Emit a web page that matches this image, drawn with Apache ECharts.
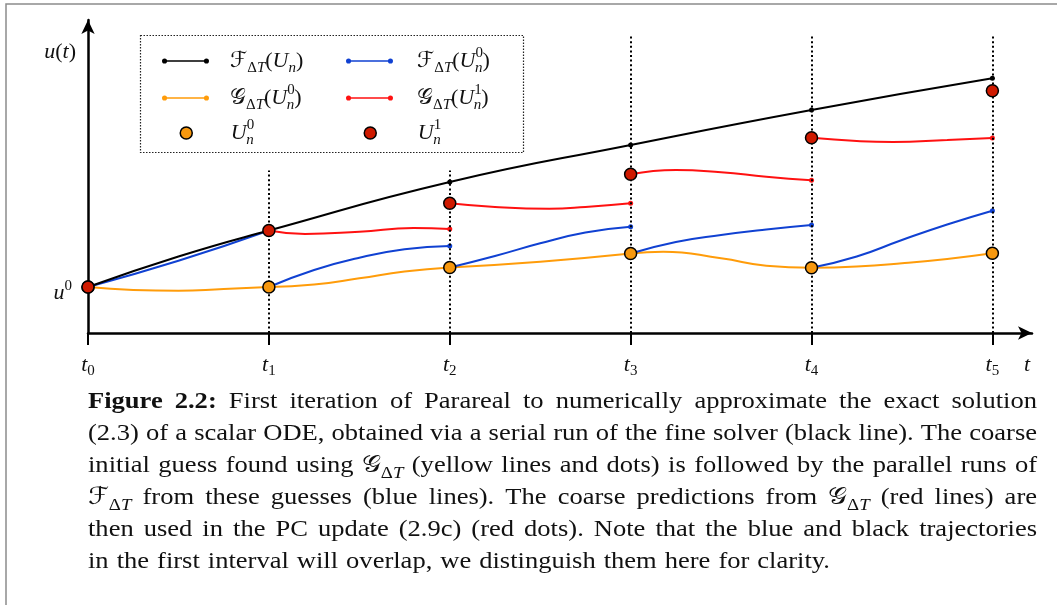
<!DOCTYPE html>
<html><head><meta charset="utf-8">
<script src="https://cdn.jsdelivr.net/npm/echarts@6/dist/echarts.min.js"></script>
<style>html,body{margin:0;padding:0;background:#fff}#c{width:1057px;height:605px}</style>
</head><body><div id="c"></div>
<script>
// ---------------- data ----------------
const tTicks = [0, 1, 2, 3, 4, 5];
const tSubs = ['0', '1', '2', '3', '4', '5'];
const u0Value = 4.6;
// fine solver run serially (black)
const fineSerial = [[0, 4.6], [0.5, 7.65], [1, 10.25], [2, 15.1], [3, 18.8], [4, 22.3], [5, 25.47]];
// fine solver from the coarse guesses (blue), one run per interval
const fineFromU0 = [
  [[0, 4.6], [0.5, 7.22], [1, 10.25]],
  [[1, 4.6], [1.25, 6.3], [1.5, 7.53], [1.75, 8.37], [2, 8.7]],
  [[2, 6.55], [2.25, 7.7], [2.5, 8.97], [2.75, 10.05], [3, 10.63]],
  [[3, 7.95], [3.25, 9.1], [3.5, 9.8], [3.75, 10.35], [4, 10.8]],
  [[4, 6.52], [4.25, 7.65], [4.5, 9.3], [4.75, 10.85], [5, 12.23]]
];
// coarse solver initial guess (orange)
const coarseFromU0 = [
  [[0, 4.6], [0.25, 4.3], [0.5, 4.22], [0.75, 4.4], [1, 4.6]],
  [[1, 4.6], [1.25, 4.85], [1.5, 5.47], [1.75, 6.15], [2, 6.55]],
  [[2, 6.55], [2.5, 7.13], [3, 7.95]],
  [[3, 7.95], [3.18, 8.13], [3.5, 7.47], [3.75, 6.73], [4, 6.52]],
  [[4, 6.52], [4.25, 6.65], [4.5, 6.97], [4.75, 7.4], [5, 7.97]]
];
// coarse predictions from the updated values (red)
const coarseFromU1 = [
  [[1, 10.25], [1.2, 9.9], [1.5, 10.13], [1.8, 10.5], [2, 10.4]],
  [[2, 12.97], [2.25, 12.6], [2.55, 12.43], [2.75, 12.6], [3, 12.97]],
  [[3, 15.87], [3.25, 16.3], [3.5, 16.07], [3.75, 15.63], [4, 15.27]],
  [[4, 19.52], [4.25, 19.2], [4.45, 19.1], [4.75, 19.3], [5, 19.5]]
];
const U0 = [4.6, 4.6, 6.55, 7.95, 6.52, 7.97];
const U1 = [4.6, 10.25, 12.97, 15.87, 19.52, 24.23];
const guideTops = [null, 16.24, 16.24, 29.65, 29.65, 29.65];

const legendLabels = {
  fine: '{cal|ℱ}{sr|Δ}{si|T}{rm|(}{it|U}{si|n}{rm|)}',
  fineU0: '{cal|ℱ}{sr|Δ}{si|T}{rm|(}{it|U}{sup|0}{sn|n}{rm|)}',
  coarseU0: '{cal|𝒢}{sr|Δ}{si|T}{rm|(}{it|U}{sup|0}{sn|n}{rm|)}',
  coarseU1: '{cal|𝒢}{sr|Δ}{si|T}{rm|(}{it|U}{sup|1}{sn|n}{rm|)}',
  U0: '{it|U}{sup|0}{sn|n}',
  U1: '{it|U}{sup|1}{sn|n}'
};

const captionLines = [
  '*Figure *2.2: First iteration of Parareal to numerically approximate the exact solution',
  '(2.3) of a scalar ODE, obtained via a serial run of the fine solver (black line). The coarse',
  'initial guess found using $G (yellow lines and dots) is followed by the parallel runs of',
  '$F from these guesses (blue lines). The coarse predictions from $G (red lines) are',
  'then used in the PC update (2.9c) (red dots). Note that the blue and black trajectories',
  'in the first interval will overlap, we distinguish them here for clarity.'
];

// ---------------- styles ----------------
const SERIF = '"Liberation Serif","DejaVu Serif",serif';
const CAL = '"DejaVu Serif","DejaVu Sans",serif';
const INK = '#111';
const COLORS = { fine: '#000000', fineU0: '#1041d2', coarseU0: '#ff9c0a', coarseU1: '#ff1111', dotU0: '#f7980f', dotU1: '#cf1a00' };

function mathRich(fs) {
  const ss = Math.round(fs * 0.7), lh = Math.round(fs * 1.35);
  return {
    rm: { fontFamily: SERIF, fontSize: fs, lineHeight: lh, color: INK },
    b: { fontFamily: SERIF, fontSize: fs, fontWeight: 'bold', lineHeight: lh, color: INK },
    it: { fontFamily: SERIF, fontSize: fs, fontStyle: 'italic', lineHeight: lh, color: INK },
    cal: { fontFamily: CAL, fontSize: fs, lineHeight: lh, color: INK },
    sr: { fontFamily: SERIF, fontSize: ss, lineHeight: ss, verticalAlign: 'bottom', color: INK },
    si: { fontFamily: SERIF, fontSize: ss, fontStyle: 'italic', lineHeight: ss, verticalAlign: 'bottom', color: INK },
    sup: { fontFamily: SERIF, fontSize: ss, lineHeight: ss, verticalAlign: 'top', color: INK },
    sn: { fontFamily: SERIF, fontSize: ss, fontStyle: 'italic', lineHeight: ss, verticalAlign: 'bottom', padding: [0, 0, 0, -Math.round(ss * 0.5)], color: INK }
  };
}
const chartFS = 22;
const chartRich = mathRich(chartFS);

// ---------------- caption layout (justified, measured) ----------------
const mctx = document.createElement('canvas').getContext('2d');
function tokenFont(st) {
  return (st.fontStyle === 'italic' ? 'italic ' : '') + (st.fontWeight === 'bold' ? 'bold ' : '') + st.fontSize + 'px ' + st.fontFamily;
}
function richWidth(str, rich) {
  let w = 0; const re = /\{([a-zA-Z0-9_]+)\|([^}]*)\}/g; let m;
  while ((m = re.exec(str))) {
    const st = rich[m[1]]; mctx.font = tokenFont(st);
    let tw = mctx.measureText(m[2]).width;
    if (st.padding) tw += st.padding[1] + st.padding[3];
    w += tw;
  }
  return w;
}
const capFS = 24, capRich = mathRich(capFS);
function wordToRich(w) {
  if (w === '$G') return '{cal|𝒢}{sr|Δ}{si|T}';
  if (w === '$F') return '{cal|ℱ}{sr|Δ}{si|T}';
  if (w[0] === '*') return '{b|' + w.slice(1) + '}';
  return '{rm|' + w + '}';
}
const capLeft = 88, capRight = 1037, capBase0 = 402, capStep = 32;
const capWords = captionLines.map(l => l.split(' ').map(wordToRich));
const capWidths = capWords.map(ws => ws.map(w => richWidth(w, capRich)));
const lastW = capWidths[capWidths.length - 1];
const capScale = (742 - (lastW.length - 1) * 8) / lastW.reduce((a, b) => a + b, 0);
const captionGraphics = [];
capWords.forEach((ws, li) => {
  const widths = capWidths[li];
  const total = widths.reduce((a, b) => a + b, 0) * capScale;
  const justify = li < capWords.length - 1;
  const gap = justify ? (capRight - capLeft - total) / (ws.length - 1) : 8;
  let x = capLeft;
  ws.forEach((w, wi) => {
    captionGraphics.push({
      type: 'text', x: x, y: capBase0 + li * capStep, scaleX: capScale, silent: true,
      style: { text: w, rich: capRich, align: 'left', verticalAlign: 'middle', textAlign: 'left', textVerticalAlign: 'middle', fill: INK }
    });
    x += widths[wi] * capScale + gap;
  });
});

// ---------------- series ----------------
const isNode = v => Math.abs(v[0] - Math.round(v[0])) < 1e-9;
function lineSeries(name, data, color, z) {
  return {
    type: 'line', name, data, smooth: 0.5, color, z, silent: true,
    lineStyle: { color, width: 2 }, itemStyle: { color },
    symbol: 'circle', symbolSize: v => (isNode(v) ? 5 : 0), showSymbol: true, showAllSymbol: true,
    emphasis: { disabled: true }
  };
}
const series = [];
series.push({
  type: 'line', name: 'guides', data: [], silent: true, z: 1,
  markLine: {
    silent: true, symbol: ['none', 'none'], label: { show: false }, emphasis: { disabled: true },
    lineStyle: { color: '#000', width: 2, type: [2, 2.6] },
    data: tTicks.map((t, i) => (guideTops[i] == null ? null : [{ coord: [t, 0] }, { coord: [t, guideTops[i]] }])).filter(Boolean)
  }
});
coarseFromU0.forEach(seg => series.push(lineSeries('coarseU0', seg, COLORS.coarseU0, 2)));
fineFromU0.forEach(seg => series.push(lineSeries('fineU0', seg, COLORS.fineU0, 3)));
coarseFromU1.forEach(seg => series.push(lineSeries('coarseU1', seg, COLORS.coarseU1, 3)));
series.push(lineSeries('fine', fineSerial, COLORS.fine, 4));
series.push({
  type: 'scatter', name: 'U0', data: tTicks.map((t, i) => [t, U0[i]]), symbolSize: 12, z: 5, silent: true,
  itemStyle: { color: COLORS.dotU0, borderColor: '#000', borderWidth: 1.5, opacity: 1 }, emphasis: { disabled: true }
});
series.push({
  type: 'scatter', name: 'U1', data: tTicks.map((t, i) => [t, U1[i]]), symbolSize: 12, z: 6, silent: true,
  itemStyle: { color: COLORS.dotU1, borderColor: '#000', borderWidth: 1.5, opacity: 1 }, emphasis: { disabled: true }
});

// ---------------- legends ----------------
const linePath = 'path://M3,2.2 L44,2.2 L44,3.8 L3,3.8 Z M0.5,3 A2.5,2.5 0 1 1 5.5,3 A2.5,2.5 0 1 1 0.5,3 Z M41.5,3 A2.5,2.5 0 1 1 46.5,3 A2.5,2.5 0 1 1 41.5,3 Z';
const legendSlots = [
  { name: 'fine', left: 162, row: 0, pad: 16, color: COLORS.fine, dy: 4 },
  { name: 'fineU0', left: 346, row: 0, pad: 19, color: COLORS.fineU0, dy: 0 },
  { name: 'coarseU0', left: 162, row: 1, pad: 16, color: COLORS.coarseU0, dy: 0 },
  { name: 'coarseU1', left: 346, row: 1, pad: 19, color: COLORS.coarseU1, dy: 0 },
  { name: 'U0', left: 162, row: 2, pad: 16, color: COLORS.dotU0, dot: true, dy: 0 },
  { name: 'U1', left: 346, row: 2, pad: 19, color: COLORS.dotU1, dot: true, dy: 0 }
];
const rowCenters = [61, 98, 133];
const legendLH = Math.round(chartFS * 1.35);
const legends = legendSlots.map(s => ({
  data: [s.name], left: s.dot ? s.left + 17.5 : s.left, top: rowCenters[s.row] - legendLH / 2 + s.dy, padding: 0, selectedMode: false,
  icon: s.dot ? 'circle' : linePath, itemWidth: 47, itemHeight: s.dot ? 12 : 6,
  itemStyle: s.dot ? { color: s.color, borderColor: '#000', borderWidth: 1.5 } : { color: s.color, borderWidth: 0 },
  formatter: () => legendLabels[s.name],
  textStyle: { rich: chartRich, padding: [0, 0, 0, s.pad] }
}));

// ---------------- chart ----------------
const chart = echarts.init(document.getElementById('c'));
chart.setOption({
  animation: false,
  backgroundColor: '#fff',
  grid: { left: 88, right: 25, top: 20, bottom: 272, containLabel: false },
  legend: legends,
  xAxis: {
    type: 'value', min: 0, max: 5.219,
    axisLine: { show: true, onZero: false, lineStyle: { color: '#000', width: 2.5 }, symbol: ['none', 'arrow'], symbolSize: [10, 14] },
    axisTick: { show: true, length: 12, lineStyle: { color: '#000', width: 2 }, customValues: tTicks },
    axisLabel: {
      customValues: tTicks, margin: 18,
      formatter: v => '{t|t}{s|' + tSubs[tTicks.indexOf(Math.round(v))] + '}',
      rich: {
        t: { fontFamily: SERIF, fontSize: 22, fontStyle: 'italic', lineHeight: 28, color: INK },
        s: { fontFamily: SERIF, fontSize: 15, lineHeight: 15, verticalAlign: 'bottom', color: INK }
      }
    },
    splitLine: { show: false },
    name: '{it|t}', nameLocation: 'end', nameGap: -8,
    nameTextStyle: { align: 'left', verticalAlign: 'top', padding: [18, 0, 0, 0], rich: { it: { fontFamily: SERIF, fontSize: 22, fontStyle: 'italic', lineHeight: 28, color: INK } } }
  },
  yAxis: {
    type: 'value', min: 0, max: 31.3,
    axisLine: { show: true, onZero: false, lineStyle: { color: '#000', width: 2.5 }, symbol: ['none', 'arrow'], symbolSize: [10, 14] },
    axisTick: { show: false },
    axisLabel: {
      customValues: [u0Value], margin: 16, padding: [13, 0, 0, 0],
      formatter: () => '{it|u}{sup|0}', rich: chartRich
    },
    splitLine: { show: false },
    name: '{it|u}{rm|(}{it|t}{rm|)}', nameLocation: 'end', nameGap: -17,
    nameTextStyle: { align: 'right', verticalAlign: 'top', padding: [0, 12, 0, 0], rich: chartRich }
  },
  graphic: [
    { type: 'rect', silent: true, shape: { x: 6, y: 4, width: 1200, height: 800 }, style: { fill: 'none', stroke: '#8c8c8c', lineWidth: 1.5 } },
    { type: 'rect', silent: true, shape: { x: 140.5, y: 35.5, width: 383, height: 117 }, style: { fill: 'none', stroke: '#222', lineWidth: 1.2, lineDash: [1.5, 1.5] } }
  ].concat(captionGraphics),
  series
});
</script>
</body></html>
